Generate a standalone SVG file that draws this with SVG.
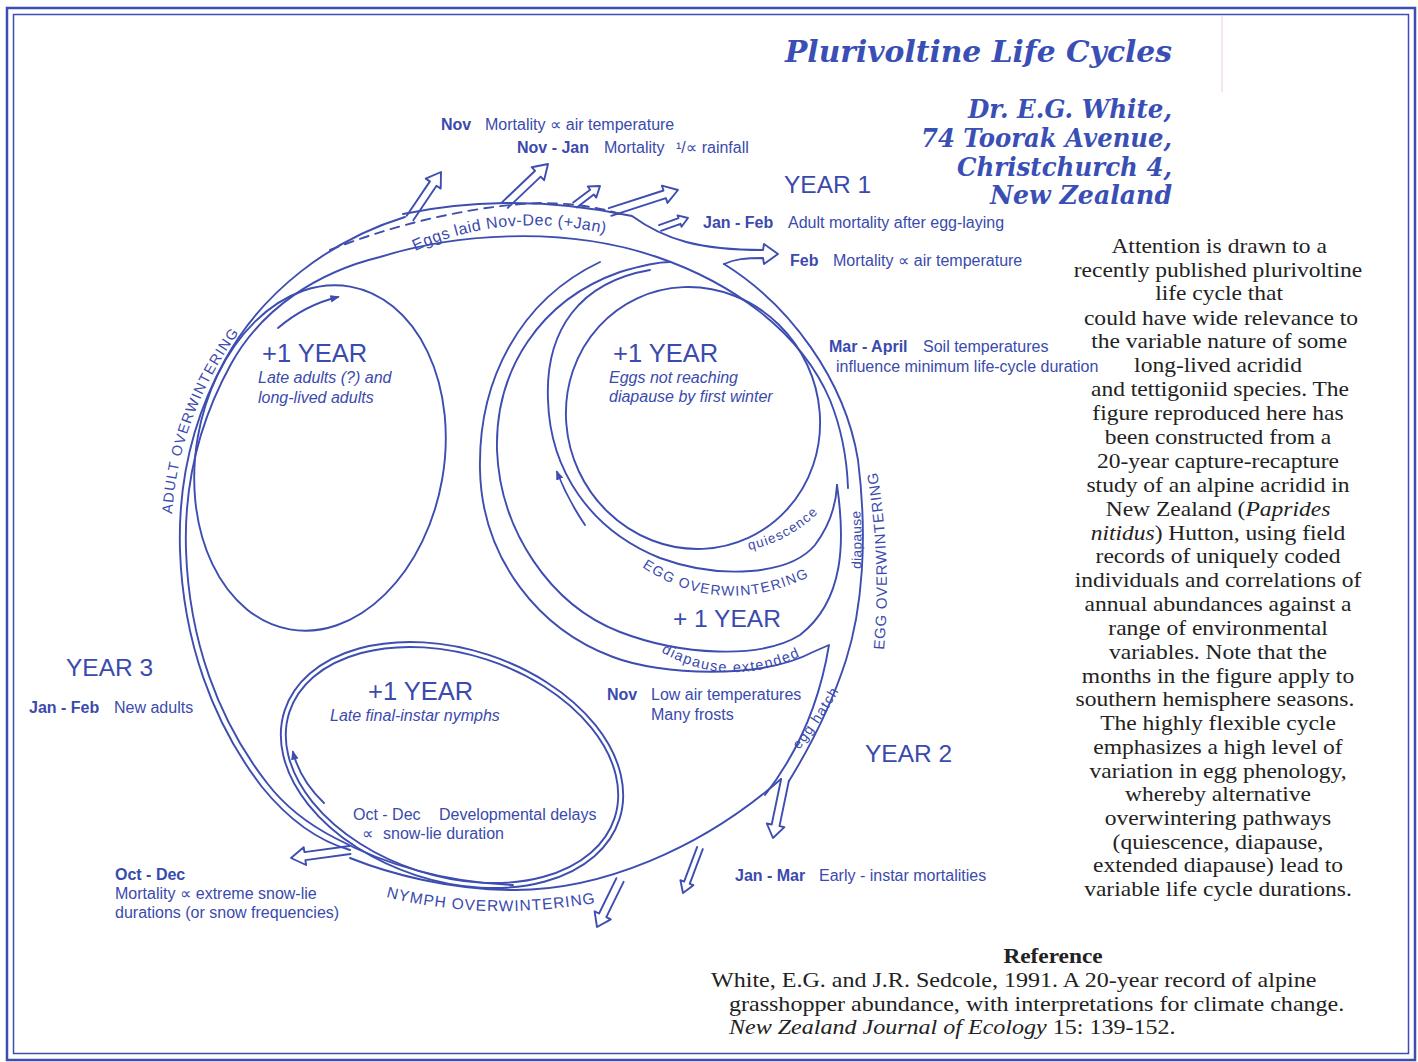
<svg xmlns="http://www.w3.org/2000/svg" width="1418" height="1062" viewBox="0 0 1418 1062">
<style>
.ln{fill:none;stroke:#3d4db0;stroke-width:1.9;stroke-linecap:round;stroke-linejoin:round}
.dash{stroke-dasharray:9 7}
.lb{font-family:"Liberation Sans",Arial,"DejaVu Sans",sans-serif;font-size:16px;fill:#3a4aad}
.b{font-weight:bold}
.it{font-style:italic}
.yr{font-family:"Liberation Sans",Arial,sans-serif;font-size:24.5px;fill:#3a4aad}
.yb{font-size:25.5px}
.cv{font-family:"Liberation Sans",Arial,sans-serif;fill:#3a4aad}
.ti{font-family:"DejaVu Serif","Liberation Serif",serif;font-weight:bold;font-style:italic;fill:#3a4fb5;text-anchor:end}
.bd{font-family:"Liberation Serif","Times New Roman",serif;font-size:21.2px;fill:#222;text-anchor:middle}
.rf{font-family:"Liberation Serif","Times New Roman",serif;font-size:21px;fill:#222}
</style>
<defs>
<marker id="ah" viewBox="0 0 10 10" refX="8" refY="5" markerWidth="5" markerHeight="5" orient="auto"><path d="M0,1 L10,5 L0,9 z" fill="#3d4db0"/></marker>
<path id="tpEggs" d="M 415,251 Q 510,208 620,237"/>
<path id="tpAdult" d="M 172,514 C 177,445 201,378 252,316"/>
<path id="tpNymph" d="M 386,897 Q 490,923 606,901"/>
<path id="tpEggOW" d="M 884,650 C 889,590 888,530 875,460"/>
<path id="tpDia" d="M 861,569 C 862,545 862,525 859,498"/>
<path id="tpQui" d="M 749,550 Q 797,540 830,500"/>
<path id="tpEgg2" d="M 642,567 Q 726,623 822,570"/>
<path id="tpDiaExt" d="M 661,652 Q 735,694 814,649"/>
<path id="tpHatch" d="M 799,750 Q 826,716 848,674"/>
</defs>
<rect width="1418" height="1062" fill="#fff"/>
<g id="frame">
<rect x="7" y="8" width="1408" height="1052" fill="none" stroke="#3d4db0" stroke-width="2.5"/>
<rect x="13.5" y="14.5" width="1395" height="1039" fill="none" stroke="#3d4db0" stroke-width="1.5"/>
<line x1="1222" y1="16" x2="1222" y2="92" stroke="#e8c8e8" stroke-width="1"/>
</g>
<g id="connectors">
<path class="ln" d="M 405,217 C 330,240 262,292 225,360 C 192,420 178,485 180,550 C 183,640 212,722 262,787 C 292,824 322,842 350,850"/>
<path class="ln" d="M 350,858 C 390,874 450,890 515,890 C 600,890 700,850 781,779"/>
<path class="ln" d="M 513,885 C 440,882 380,862 335,838 C 300,820 280,800 267,783 C 218,720 189,640 186,550 C 184,487 198,424 231,364 C 262,308 318,272 380,257 C 450,235 560,224 657,257 C 730,282 800,330 830,400 C 842,430 847,460 848,488"/>
<path class="ln" d="M 724,264 C 790,305 845,380 858,460 C 868,540 862,610 846,660 C 830,710 808,750 789,781"/>
<path class="ln" d="M 403,214 C 460,202 540,196 632,216 C 665,240 700,250 763,250 L 764,244 L 778,254 L 764,264 L 763,258 C 745,258 735,259 724,264"/>
<path class="ln dash" d="M 330,250 C 400,222 480,205 540,203 C 580,203 610,210 625,216"/>
<path class="ln" d="M406.7,215.8 L429.9,181.4 L425.7,178.6 L441,172 L440.7,188.6 L436.5,185.8 L413.3,220.2"/>
<path class="ln" d="M502.2,202.1 L535.1,170.8 L531.7,167.2 L548,164 L544.1,180.2 L540.7,176.6 L507.8,207.9"/>
<path class="ln" d="M573.2,202.6 L590.2,189.7 L587.8,186.5 L600,186 L596.2,197.6 L593.8,194.4 L576.8,207.4"/>
<path class="ln" d="M608.8,208.2 L663.5,190.5 L661.9,185.7 L678,190 L667.5,202.9 L665.9,198.1 L611.2,215.8"/>
<path class="ln" d="M659,225.2 L678.5,218.2 L677.5,215.3 L688,218 L681.5,226.7 L680.5,223.8 L661,230.8"/>
<path class="ln" d="M349.5,846 L304.4,852.1 L303.7,847.2 L291,858 L306.1,865 L305.4,860.1 L350.5,854"/>
<path class="ln" d="M616.4,878.2 L599.1,913.5 L594.6,911.3 L597,927 L610.8,919.3 L606.3,917.1 L623.6,881.8"/>
<path class="ln" d="M697.2,846.9 L684.1,881.6 L680.4,880.2 L683,893 L693.4,885.2 L689.7,883.8 L702.8,849.1"/>
<path class="ln" d="M781.1,779.2 L771.7,824.5 L766.8,823.5 L773,838 L784.4,827.1 L779.5,826.1 L788.9,780.8"/>
<ellipse class="ln" cx="320" cy="458" rx="124" ry="174" transform="rotate(10 320 458)"/>
<ellipse class="ln" cx="452" cy="765" rx="176" ry="116" transform="rotate(18 452 765)"/>
<ellipse class="ln" cx="452" cy="765" rx="171" ry="111" transform="rotate(18 452 765)"/>
<ellipse class="ln" cx="693" cy="418" rx="126" ry="132" transform="rotate(-25 693 418)"/>
<path class="ln" d="M 650,270 C 580,282 545,330 548,400 C 550,470 590,530 660,558 C 720,580 790,575 815,545 C 830,525 836,505 837,485"/>
<path class="ln" d="M 837,485 C 845,540 845,600 800,635 C 760,660 680,655 620,632 C 550,605 500,530 497,450 C 495,370 540,300 620,272 C 640,266 655,262 670,262"/>
<path class="ln" d="M 600,262 C 520,300 478,380 480,470 C 482,560 540,630 613,657 C 660,675 760,680 813,652 L 829,645 C 820,700 800,750 765,795"/>
<path class="ln" d="M 278,328 Q 305,305 338,297" marker-end="url(#ah)"/>
<path class="ln" d="M 324,803 Q 300,780 293,752" marker-end="url(#ah)"/>
<path class="ln" d="M 585,525 Q 568,500 557,472" marker-end="url(#ah)"/>
</g>
<g id="curved-labels">
<text class="cv" style="font-size:16px;letter-spacing:0.5px"><textPath href="#tpEggs">Eggs laid Nov-Dec (+Jan)</textPath></text>
<text class="cv" style="font-size:14.5px;letter-spacing:1.2px"><textPath href="#tpAdult">ADULT OVERWINTERING</textPath></text>
<text class="cv" style="font-size:15.5px;letter-spacing:1px"><textPath href="#tpNymph">NYMPH OVERWINTERING</textPath></text>
<text class="cv" style="font-size:15px;letter-spacing:0.8px"><textPath href="#tpEggOW">EGG OVERWINTERING</textPath></text>
<text class="cv" style="font-size:13.5px;letter-spacing:0.5px"><textPath href="#tpDia">diapause</textPath></text>
<text class="cv" style="font-size:13.5px;letter-spacing:1.2px"><textPath href="#tpQui">quiescence</textPath></text>
<text class="cv" style="font-size:14px;letter-spacing:1.3px"><textPath href="#tpEgg2">EGG OVERWINTERING</textPath></text>
<text class="cv" style="font-size:14.5px;letter-spacing:1.4px"><textPath href="#tpDiaExt">diapause extended</textPath></text>
<text class="cv" style="font-size:14px;letter-spacing:1.2px"><textPath href="#tpHatch">egg hatch</textPath></text>
</g>
<g id="node-top">
<text class="lb" x="441" y="130"><tspan class="b">Nov</tspan><tspan x="485">Mortality ∝ air temperature</tspan></text>
<text class="lb" x="517" y="153"><tspan class="b">Nov - Jan</tspan><tspan x="604">Mortality</tspan><tspan x="676">¹/∝ rainfall</tspan></text>
<text class="yr" x="784" y="193">YEAR 1</text>
<text class="lb" x="703" y="228"><tspan class="b">Jan - Feb</tspan><tspan x="788">Adult mortality after egg-laying</tspan></text>
<text class="lb" x="790" y="266"><tspan class="b">Feb</tspan><tspan x="833">Mortality ∝ air temperature</tspan></text>
<text class="lb" x="829" y="352"><tspan class="b">Mar - April</tspan><tspan x="923">Soil temperatures</tspan></text>
<text class="lb" x="836" y="372">influence minimum life-cycle duration</text>
</g>
<g id="node-eggs-loop">
<text class="yr yb" x="613" y="362">+1 YEAR</text>
<text class="lb it" x="609" y="383">Eggs not reaching</text>
<text class="lb it" x="609" y="402">diapause by first winter</text>
<text class="yr" x="673" y="627">+ 1 YEAR</text>
</g>
<g id="node-adult-loop">
<text class="yr yb" x="262" y="362">+1 YEAR</text>
<text class="lb it" x="258" y="383">Late adults (?) and</text>
<text class="lb it" x="258" y="403">long-lived adults</text>
</g>
<g id="node-year3">
<text class="yr" x="66" y="676">YEAR 3</text>
<text class="lb" x="29" y="713"><tspan class="b">Jan - Feb</tspan><tspan x="114">New adults</tspan></text>
</g>
<g id="node-nymph-loop">
<text class="yr yb" x="368" y="700">+1 YEAR</text>
<text class="lb it" x="330" y="721">Late final-instar nymphs</text>
<text class="lb" x="353" y="820">Oct - Dec<tspan x="439">Developmental delays</tspan></text>
<text class="lb" x="362" y="839">∝<tspan x="383">snow-lie duration</tspan></text>
</g>
<g id="node-year2">
<text class="lb" x="607" y="700"><tspan class="b">Nov</tspan><tspan x="651">Low air temperatures</tspan></text>
<text class="lb" x="651" y="720">Many frosts</text>
<text class="yr" x="865" y="762">YEAR 2</text>
<text class="lb" x="735" y="881"><tspan class="b">Jan - Mar</tspan><tspan x="819">Early - instar mortalities</tspan></text>
</g>
<g id="node-octdec">
<text class="lb b" x="115" y="880">Oct - Dec</text>
<text class="lb" x="115" y="899">Mortality ∝ extreme snow-lie</text>
<text class="lb" x="115" y="918">durations (or snow frequencies)</text>
</g>
<g id="title">
<text class="ti" x="1172" y="62" style="font-size:29px" textLength="387" lengthAdjust="spacingAndGlyphs">Plurivoltine Life Cycles</text>
<text class="ti" x="1172" y="118" style="font-size:26px" textLength="204" lengthAdjust="spacingAndGlyphs">Dr. E.G. White,</text>
<text class="ti" x="1172" y="147" style="font-size:26px" textLength="251" lengthAdjust="spacingAndGlyphs">74 Toorak Avenue,</text>
<text class="ti" x="1172" y="176" style="font-size:26px" textLength="215" lengthAdjust="spacingAndGlyphs">Christchurch 4,</text>
<text class="ti" x="1172" y="204" style="font-size:26px" textLength="182" lengthAdjust="spacingAndGlyphs">New Zealand</text>
</g>
<g id="body-text" transform="translate(1218,0) scale(1.11,1)">
<text class="bd" x="1" y="253">Attention is drawn to a</text>
<text class="bd" x="0" y="277">recently published plurivoltine</text>
<text class="bd" x="1" y="300">life cycle that</text>
<text class="bd" x="2.7" y="325">could have wide relevance to</text>
<text class="bd" x="1" y="348">the variable nature of some</text>
<text class="bd" x="0" y="372">long-lived acridid</text>
<text class="bd" x="1.8" y="396">and tettigoniid species. The</text>
<text class="bd" x="0" y="420">figure reproduced here has</text>
<text class="bd" x="0" y="444">been constructed from a</text>
<text class="bd" x="0" y="468">20-year capture-recapture</text>
<text class="bd" x="0" y="492">study of an alpine acridid in</text>
<text class="bd" x="0" y="516">New Zealand (<tspan font-style="italic">Paprides</tspan></text>
<text class="bd" x="0" y="540"><tspan font-style="italic">nitidus</tspan>) Hutton, using field</text>
<text class="bd" x="0" y="563">records of uniquely coded</text>
<text class="bd" x="0" y="587">individuals and correlations of</text>
<text class="bd" x="0" y="611">annual abundances against a</text>
<text class="bd" x="0" y="635">range of environmental</text>
<text class="bd" x="0" y="659">variables.  Note that the</text>
<text class="bd" x="0" y="683">months in the figure apply to</text>
<text class="bd" x="-2.7" y="706">southern hemisphere seasons.</text>
<text class="bd" x="0" y="730">The highly flexible cycle</text>
<text class="bd" x="0" y="754">emphasizes a high level of</text>
<text class="bd" x="0" y="778">variation in egg phenology,</text>
<text class="bd" x="0" y="801">whereby alternative</text>
<text class="bd" x="0" y="825">overwintering pathways</text>
<text class="bd" x="0" y="849">(quiescence, diapause,</text>
<text class="bd" x="0" y="872">extended diapause) lead to</text>
<text class="bd" x="0" y="896">variable life cycle durations.</text>
</g>
<g id="reference">
<g transform="translate(1053,0) scale(1.1,1)">
<text class="bd" x="0" y="963" font-weight="bold">Reference</text>
</g>
<g transform="translate(711,0) scale(1.145,1)">
<text class="rf" x="0" y="987">White, E.G. and J.R. Sedcole, 1991.  A 20-year record of alpine</text>
<text class="rf" x="15.7" y="1011">grasshopper abundance, with interpretations for climate change.</text>
<text class="rf" x="15.7" y="1034"><tspan font-style="italic">New Zealand Journal of Ecology</tspan> 15: 139-152.</text>
</g>
</g>
</svg>
